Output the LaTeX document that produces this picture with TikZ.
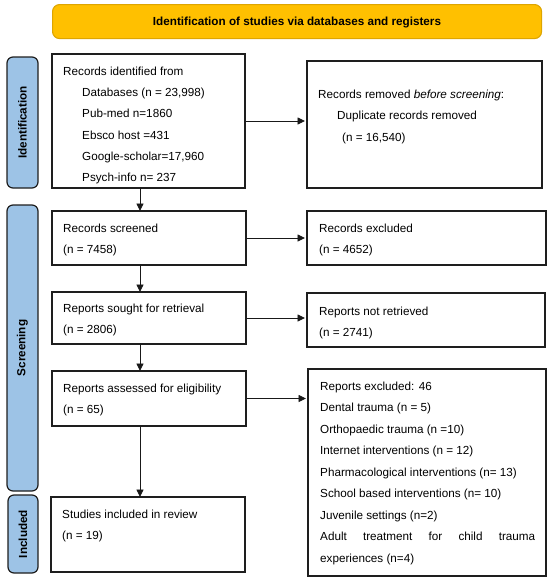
\documentclass[tikz,border=0pt]{standalone}
\usepackage{fontspec}
\setmainfont{Liberation Sans}
\usetikzlibrary{arrows.meta}
\definecolor{hdrfill}{RGB}{255,192,0}
\definecolor{hdrdraw}{RGB}{222,165,0}
\definecolor{barfill}{RGB}{157,195,230}
\definecolor{ink}{RGB}{30,30,30}
\begin{document}
\begin{tikzpicture}[x=1pt,y=-1pt,
  boxnode/.style={draw=ink, line width=1.1pt, fill=white, anchor=north west, inner sep=0pt, outer sep=0pt},
  sidebar/.style={draw=ink, line width=1.2pt, fill=barfill, rounded corners=6pt, anchor=north west, inner sep=0pt, outer sep=0pt},
  sidelabel/.style={rotate=90, font=\fontsize{11.7}{14}\selectfont\bfseries, inner sep=0pt},
  txt/.style={anchor=north west, inner sep=0pt, align=left, font=\fontsize{11.7}{21.3}\selectfont},
  txtwide/.style={anchor=north west, inner sep=0pt, align=left, font=\fontsize{11.7}{21.5}\selectfont},
  arr/.style={draw=black!90, line width=0.9pt, -{Triangle[length=7.5pt,width=7pt]}},
  harr/.style={arr, shorten >=2pt, shorten <=1pt}]
\useasboundingbox (0,0) rectangle (550,579);

% header
\node[draw=hdrdraw, line width=1.1pt, fill=hdrfill, rounded corners=7pt,
      minimum width=489pt, minimum height=34pt, anchor=north west, inner sep=0pt] (hdr) at (52,4) {};
\node[font=\fontsize{11.7}{14}\selectfont\bfseries, inner sep=0pt] (hdrtxt) at (297,22) {Identification of studies via databases and registers};

% side bars
\node[sidebar, minimum width=31pt, minimum height=131pt] (sid) at (7,57) {};
\node[sidelabel] (sidl) at (sid.center) {Identification};
\node[sidebar, minimum width=31pt, minimum height=286pt] (scb) at (7,205) {};
\node[sidelabel] (scbl) at (scb.center) {Screening};
\node[sidebar, minimum width=30pt, minimum height=78pt] (inb) at (8,495) {};
\node[sidelabel] (inbl) at (inb.center) {Included};

% boxes
\node[boxnode, minimum width=193pt, minimum height=134pt] (b1) at (52,54) {};
\node[boxnode, minimum width=235pt, minimum height=127pt] (b2) at (307,61) {};
\node[boxnode, minimum width=194pt, minimum height=54pt] (scr) at (52,211) {};
\node[boxnode, minimum width=239pt, minimum height=54pt] (exc) at (307,211) {};
\node[boxnode, minimum width=194pt, minimum height=52pt] (sou) at (52,292) {};
\node[boxnode, minimum width=238pt, minimum height=54pt] (nr) at (307,293) {};
\node[boxnode, minimum width=194pt, minimum height=55pt] (ass) at (52,371) {};
\node[boxnode, minimum width=238pt, minimum height=207pt] (rex) at (308,369) {};
\node[boxnode, minimum width=194pt, minimum height=75pt] (stu) at (51,497) {};

% texts
\node[txt] (b1t) at (63,60.1) {\strut Records identified from\\
  \hspace*{19pt}Databases (n = 23,998)\\
  \hspace*{19pt}Pub-med n=1860\\
  \hspace*{19pt}Ebsco host =431\\
  \hspace*{19pt}Google-scholar=17,960\\
  \hspace*{19pt}Psych-info n= 237};
\node[txtwide] (b2t) at (318,83) {\strut Records removed \textit{before screening}:\\
  \hspace*{19pt}Duplicate records removed\\
  \hspace*{24pt}(n = 16,540)};
\node[txt] (scrt) at (63,217.1) {\strut Records screened\\(n = 7458)};
\node[txt] (exct) at (319,217.1) {\strut Records excluded\\(n = 4652)};
\node[txt] (sout) at (63,297.1) {\strut Reports sought for retrieval\\(n = 2806)};
\node[txt] (nrt) at (319,300.1) {\strut Reports not retrieved\\(n = 2741)};
\node[txt] (asst) at (63,377.1) {\strut Reports assessed for eligibility\\(n = 65)};
\node[txtwide] (rext) at (320,375) {\strut Reports excluded: 46\\
  Dental trauma (n = 5)\\
  Orthopaedic trauma (n =10)\\
  Internet interventions (n = 12)\\
  Pharmacological interventions (n= 13)\\
  School based interventions (n= 10)\\
  Juvenile settings (n=2)\\
  \makebox[215pt][s]{Adult treatment for child trauma}\\
  experiences (n=4)};
\node[txt] (stut) at (62,503.1) {\strut Studies included in review\\(n = 19)};

% connectors
\coordinate (ax) at (140,0);
\draw[arr] (b1.south -| ax) -- (scr.north -| ax);
\draw[arr] (scr.south -| ax) -- (sou.north -| ax);
\draw[arr] (sou.south -| ax) -- (ass.north -| ax);
\draw[arr] (ass.south -| ax) -- (stu.north -| ax);
\draw[harr] (b1.east) -- (b1.east -| b2.west);
\draw[harr] (scr.east) -- (scr.east -| exc.west);
\draw[harr] (sou.east) -- (sou.east -| nr.west);
\draw[harr] (ass.east) -- (ass.east -| rex.west);
\end{tikzpicture}
\end{document}
